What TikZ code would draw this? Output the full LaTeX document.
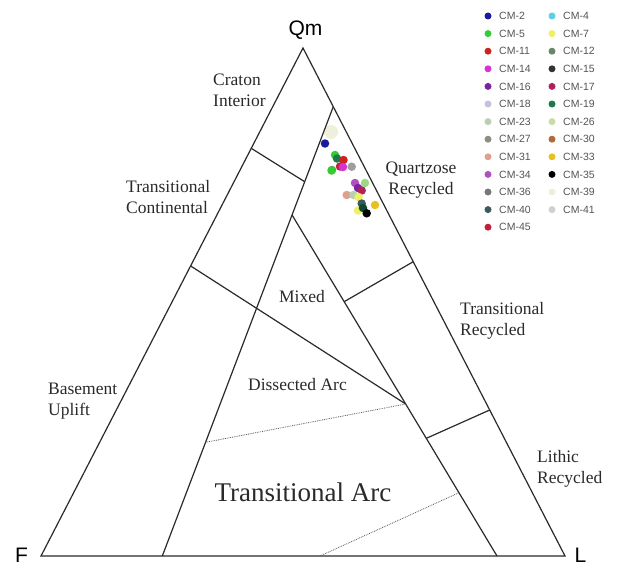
\documentclass[tikz,border=0pt]{standalone}
\usepackage{fontspec}
\setmainfont{Liberation Serif}
\newfontfamily\lsans{Liberation Sans}
\usetikzlibrary{calc}
\definecolor{ink}{HTML}{2A2A2A}
\definecolor{legtxt}{HTML}{555555}
\definecolor{cmii}{HTML}{1A1A9A}
\definecolor{cmiv}{HTML}{5BD0E0}
\definecolor{cmv}{HTML}{33CC33}
\definecolor{cmvii}{HTML}{F0F060}
\definecolor{cmxi}{HTML}{CC2222}
\definecolor{cmxii}{HTML}{668866}
\definecolor{cmxiv}{HTML}{D633D6}
\definecolor{cmxv}{HTML}{333333}
\definecolor{cmxvi}{HTML}{7A22A0}
\definecolor{cmxvii}{HTML}{B0205A}
\definecolor{cmxviii}{HTML}{C8C0E0}
\definecolor{cmxix}{HTML}{1E7A4A}
\definecolor{cmxxiii}{HTML}{B8D0B0}
\definecolor{cmxxvi}{HTML}{C8DCA8}
\definecolor{cmxxvii}{HTML}{8A9080}
\definecolor{cmxxx}{HTML}{B06A3A}
\definecolor{cmxxxi}{HTML}{E0A090}
\definecolor{cmxxxiii}{HTML}{E8C020}
\definecolor{cmxxxiv}{HTML}{B050C0}
\definecolor{cmxxxv}{HTML}{000000}
\definecolor{cmxxxvi}{HTML}{777777}
\definecolor{cmxxxix}{HTML}{EEF0DC}
\definecolor{cmxl}{HTML}{3A5A60}
\definecolor{cmxli}{HTML}{D0D0D0}
\definecolor{cmxlv}{HTML}{C0203A}
\begin{document}
\begin{tikzpicture}[x=1pt,y=-1pt,
  bound/.style={draw=ink,line width=1.2pt,line join=miter},
  dotbound/.style={draw=ink!80,line width=0.8pt,densely dotted},
  region/.style={font=\fontsize{17.5}{21}\selectfont,text=ink,inner sep=0pt,align=left},
  apex/.style={font=\lsans\fontsize{21}{22}\selectfont,text=black,inner sep=0pt},
  legdot/.style={circle,inner sep=0pt,minimum size=7pt},
  legtext/.style={font=\lsans\fontsize{10.5}{12}\selectfont,text=legtxt,inner sep=0pt,anchor=west},
  sample/.style={circle,inner sep=0pt,minimum size=8.5pt}]
\fill[white] (0,0) rectangle (617,567);
\useasboundingbox (0,0) rectangle (617,567);
% corners and boundary points
\coordinate (Qm) at (303,48);
\coordinate (F) at (41,556);
\coordinate (L) at (565,556);
\coordinate (A) at ($(Qm)!0.1155!(L)$);
\coordinate (B) at (162.3,556);
\coordinate (C) at ($(F)!0.8025!(Qm)$);
\coordinate (D) at ($(A)!0.167!(B)$);
\coordinate (E) at ($(F)!0.571!(Qm)$);
\coordinate (M) at ($(A)!0.241!(B)$);
\coordinate (N) at (497,556);
\coordinate (H) at ($(M)!0.5543!(N)$);
\coordinate (P) at ($(M)!0.2543!(N)$);
\coordinate (Q) at ($(Qm)!0.4207!(L)$);
\coordinate (R) at ($(M)!0.655!(N)$);
\coordinate (S) at ($(Qm)!0.7126!(L)$);
\coordinate (T) at ($(A)!0.747!(B)$);
\coordinate (U) at (320,556);
\coordinate (V) at ($(M)!0.8144!(N)$);
% pale patch near apex
\fill[cmxxxix] (331,132) circle (7pt);
% boundaries
\draw[bound] (Qm) -- (F) -- (L) -- cycle;
\draw[bound] (A) -- (B);
\draw[bound] (C) -- (D);
\draw[bound] (E) -- (H);
\draw[bound] (M) -- (N);
\draw[bound] (P) -- (Q);
\draw[bound] (R) -- (S);
\draw[dotbound] (T) -- (H);
\draw[dotbound] (U) -- (V);
% apex labels
\node[apex] (lQm) at (305.5,30) {Qm};
\node[apex,anchor=base] (lF) at (21.5,562) {F};
\node[apex,anchor=base] (lL) at (580.5,562) {L};
% region labels
\node[region,anchor=west] (craton) at (213,90.5) {Craton\\Interior};
\node[region,anchor=west] (tcont) at (126,197) {Transitional\\Continental};
\node[region,anchor=west] (base) at (48,401) {Basement\\Uplift};
\node[region,align=center] (qrec) at (421,180) {Quartzose\\Recycled};
\node[region,anchor=west] (trec) at (460,320.5) {Transitional\\Recycled};
\node[region,anchor=west] (lrec) at (537,469) {Lithic\\Recycled};
\node[region] (mixed) at (302,296.5) {Mixed};
\node[region] (dissarc) at (297.5,385) {Dissected Arc};
\node[region,font=\fontsize{27}{30}\selectfont] (tarc) at (303,492) {Transitional Arc};
% samples
\node[sample,fill=cmii] (s2) at (325,143.5) {};
\node[sample,fill=cmv] (s5) at (335,155) {};
\node[sample,fill=cmxix] (s19) at (337,158.5) {};
\node[sample,fill=cmxi] (s11) at (343.5,160) {};
\node[sample,fill=cmxii] (s12) at (332,170) {};
\node[sample,fill=cmv] (s5b) at (331.5,170.5) {};
\node[sample,fill=cmxlv] (s45) at (340,166.5) {};
\node[sample,fill=cmxiv] (s14) at (343,167) {};
\node[sample,fill=cmxxvii!70!cmxviii] (s27) at (351.7,166.7) {};
\node[sample,fill=cmxxxiv] (s34) at (355,183) {};
\node[sample,fill=cmxxvi!70!cmv] (s26) at (365,183) {};
\node[sample,fill=cmxvi] (s16) at (358,188) {};
\node[sample,fill=cmxvii] (s17) at (361.7,190.5) {};
\node[sample,fill=cmxxxi] (s31) at (346.7,195) {};
\node[sample,fill=cmxxiii] (s23) at (353.5,195) {};
\node[sample,fill=cmvii] (s7) at (358.5,197) {};
\node[sample,fill=cmxl] (s40) at (361.7,203.5) {};
\node[sample,fill=cmxxxiii] (s33) at (375,205) {};
\node[sample,fill=cmvii] (s7b) at (358,210.5) {};
\node[sample,fill=cmxix!60!cmxxxv] (s19b) at (363,208) {};
\node[sample,fill=cmxxxv] (s35) at (366.7,213.3) {};
% legend column 1
\foreach \i/\c/\t in {0/cmii/CM-2,1/cmv/CM-5,2/cmxi/CM-11,3/cmxiv/CM-14,4/cmxvi/CM-16,5/cmxviii/CM-18,6/cmxxiii/CM-23,7/cmxxvii/CM-27,8/cmxxxi/CM-31,9/cmxxxiv/CM-34,10/cmxxxvi/CM-36,11/cmxl/CM-40,12/cmxlv/CM-45}{
  \node[legdot,fill=\c] (ld\t) at (488,{16+17.6*\i}) {};
  \node[legtext] (lt\t) at (499,{16+17.6*\i}) {\t};
}
% legend column 2
\foreach \i/\c/\t in {0/cmiv/CM-4,1/cmvii/CM-7,2/cmxii/CM-12,3/cmxv/CM-15,4/cmxvii/CM-17,5/cmxix/CM-19,6/cmxxvi/CM-26,7/cmxxx/CM-30,8/cmxxxiii/CM-33,9/cmxxxv/CM-35,10/cmxxxix/CM-39,11/cmxli/CM-41}{
  \node[legdot,fill=\c] (ld\t) at (552,{16+17.6*\i}) {};
  \node[legtext] (lt\t) at (563,{16+17.6*\i}) {\t};
}
\end{tikzpicture}
\end{document}
